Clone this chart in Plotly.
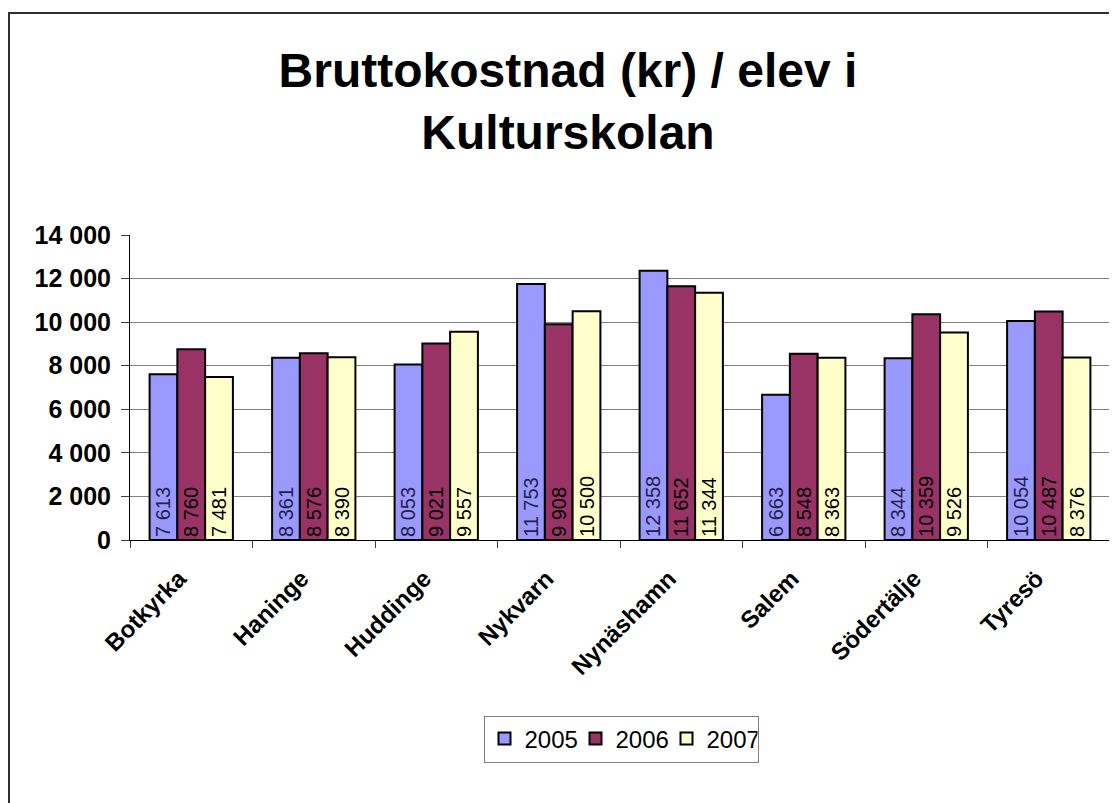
import plotly.graph_objects as go

categories = ["Botkyrka", "Haninge", "Huddinge", "Nykvarn", "Nynäshamn", "Salem", "Södertälje", "Tyresö"]
years = ["2005", "2006", "2007"]
v2005 = [7613, 8361, 8053, 11753, 12358, 6663, 8344, 10054]
v2006 = [8760, 8576, 9021, 9908, 11652, 8548, 10359, 10487]
v2007 = [7481, 8390, 9557, 10500, 11344, 8363, 9526, 8376]
series = [v2005, v2006, v2007]
colors = ["#9999FF", "#993366", "#FFFFCC"]
text_colors = ["#222244", "#000000", "#000000"]
y_ticks = [0, 2000, 4000, 6000, 8000, 10000, 12000, 14000]

W, H = 1117, 803
OFF = 8  # page body offset
ml, mt = 130 - OFF, 235 - OFF
pw, ph = 980, 305
mr = W - ml - pw
mb = H - mt - ph

fig = go.Figure()
for name, vals, col, tc in zip(years, series, colors, text_colors):
    fig.add_trace(go.Bar(
        x=categories, y=vals, name=name,
        marker=dict(color=col, line=dict(color="black", width=2)),
        texttemplate="%{y:,}", textposition="inside", insidetextanchor="start",
        textangle=-90, constraintext="none",
        insidetextfont=dict(family="Liberation Sans, Arial", size=20, color=tc),
    ))

def px_x(x):  # screen x -> paper
    return (x - OFF - ml) / pw

def px_y(y):  # screen y -> paper
    return (mt + ph - (y - OFF)) / ph

fig.update_layout(
    width=W, height=H,
    margin=dict(l=ml, r=mr, t=mt, b=mb),
    paper_bgcolor="white", plot_bgcolor="white",
    separators=". ",
    barmode="group", bargap=0.32, bargroupgap=0,
    font=dict(family="Liberation Sans, Arial", color="black"),
    title=dict(
        text="<b>Bruttokostnad (kr) / elev i<br>Kulturskolan</b>",
        font=dict(family="Liberation Sans, Arial", size=48, color="black"),
        x=(568 - OFF) / W, xanchor="center", xref="container",
        y=1 - 79 / H, yanchor="top", yref="container",
    ),
    xaxis=dict(
        showline=True, linecolor="black", linewidth=1,
        ticks="outside", tickson="boundaries", ticklen=7, tickcolor="#404040",
        tickangle=-45, ticklabelshift=-12, ticklabelstandoff=14,
        tickfont=dict(family="Liberation Sans, Arial", size=24, color="black", weight="bold"),
        showgrid=False,
    ),
    yaxis=dict(
        range=[0, 14000], tickvals=y_ticks, tickformat=",",
        showline=True, linecolor="black", linewidth=1,
        ticks="outside", ticklen=8, tickcolor="#404040", ticklabelstandoff=5,
        showgrid=True, gridcolor="#808080", gridwidth=1,
        tickfont=dict(family="Liberation Sans, Arial", size=25, color="black", weight="bold"),
        zeroline=False,
    ),
    legend=dict(
        orientation="h", x=px_x(621), xanchor="center",
        y=px_y(739), yanchor="middle",
        bordercolor="#808080", borderwidth=1,
        entrywidth=46,
        font=dict(family="Liberation Sans, Arial", size=24, color="black"),
        traceorder="normal",
    ),
    showlegend=True,
)

# right edge of plot area (grey)
fig.add_shape(type="line", xref="paper", yref="paper", x0=1, x1=1, y0=0, y1=1,
              line=dict(color="#808080", width=2), layer="above")
# outer chart border (left and top visible)
fig.add_shape(type="rect", xref="paper", yref="paper",
              x0=px_x(OFF + 1), x1=px_x(W + 40), y0=px_y(H + 40), y1=px_y(13),
              line=dict(color="#303030", width=2), fillcolor="rgba(0,0,0,0)", layer="above")

fig.write_html("out.html")
